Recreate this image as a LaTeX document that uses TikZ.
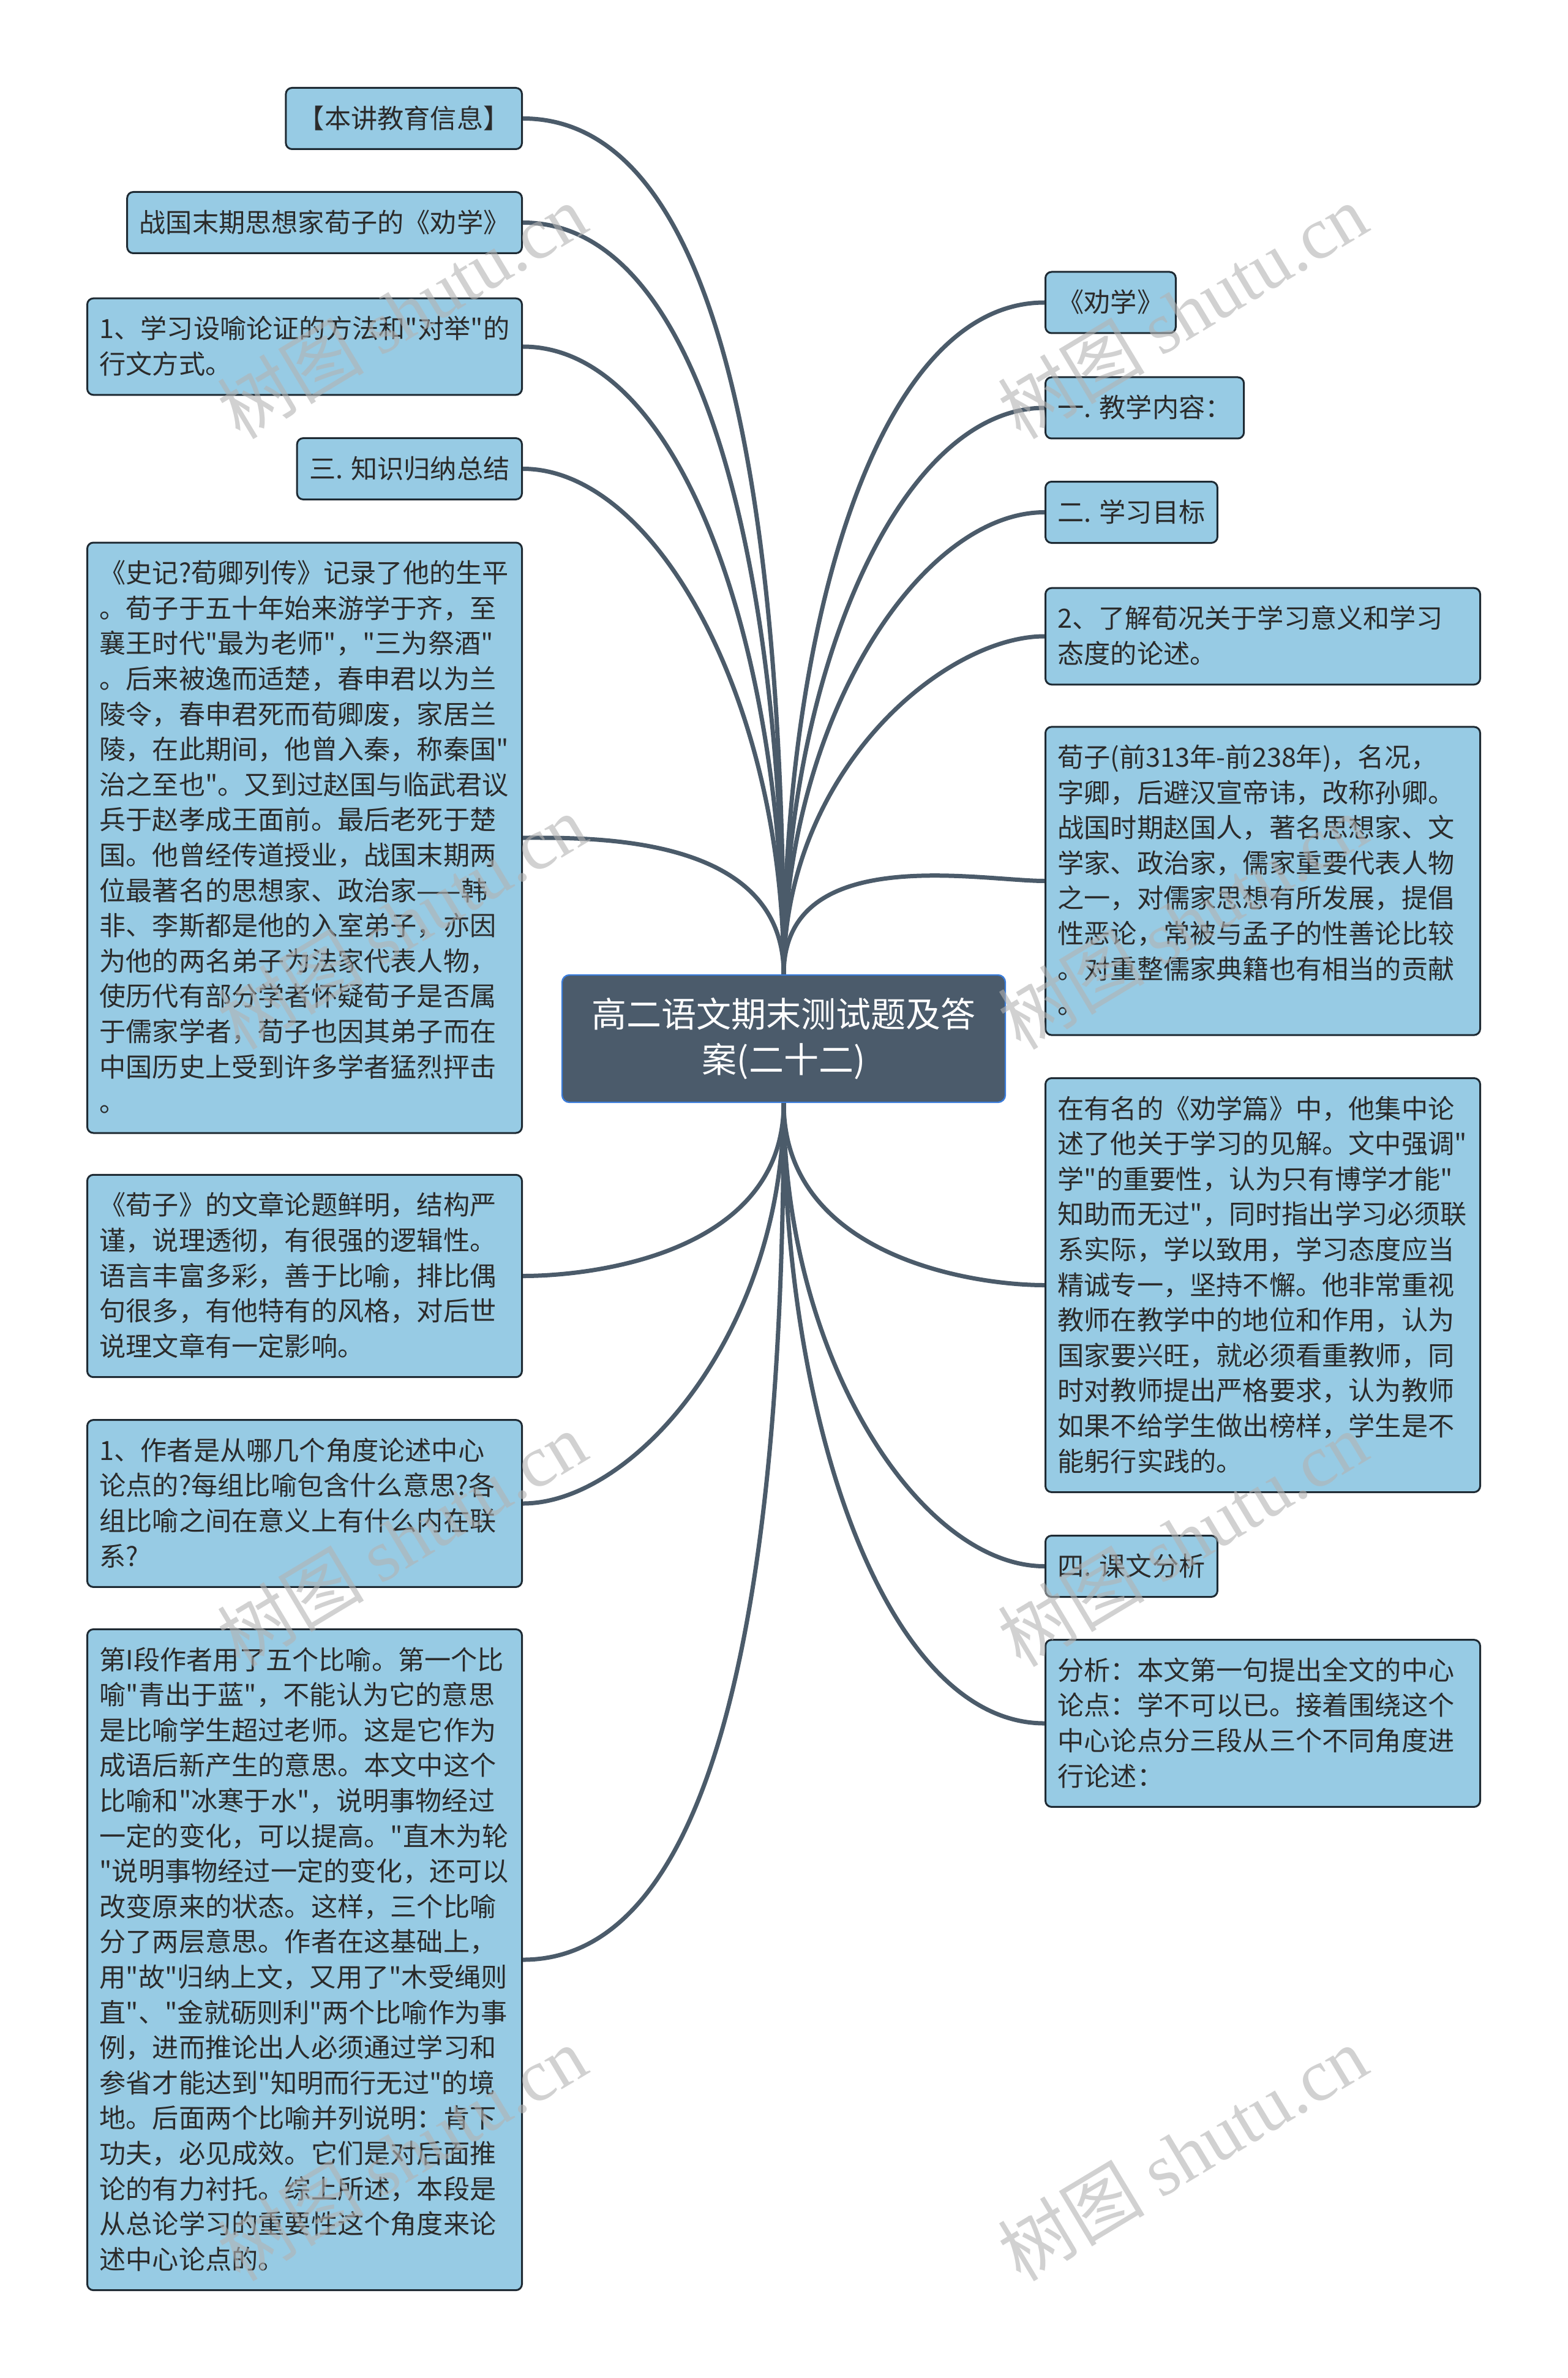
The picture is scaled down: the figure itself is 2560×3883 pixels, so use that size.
\documentclass[tikz,border=0pt]{standalone}
\usepackage{fontspec}
\setmainfont{Noto Sans CJK SC}[Ligatures=TeXOff]
\newfontfamily\wmserif{Liberation Serif}
\usepackage{tikz}
\usetikzlibrary{positioning}
\definecolor{TopicBlue}{HTML}{97CBE4}
\definecolor{TopicLine}{HTML}{1E2A33}
\definecolor{RootSlate}{HTML}{4B5B6B}
\definecolor{RootLine}{HTML}{3B7DDB}
\definecolor{EdgeSlate}{HTML}{4B5B6A}
\definecolor{InkDark}{HTML}{2B2B2B}
\definecolor{MarkGrey}{HTML}{B3B3B3}
\newcommand{\boxstrut}{\rule[-3.3pt]{0pt}{14.4pt}}

\begin{document}
\begin{tikzpicture}[x=0.25pt, y=0.25pt]
    \tikzstyle{topic} = [rectangle, draw=TopicLine, fill=TopicBlue, line width=0.75pt, rounded corners=2.5pt, inner xsep=5pt, inner ysep=5.3pt, align=left, text=InkDark, font=\fontsize{10.8}{14.4}\selectfont, execute at begin node=\boxstrut, execute at end node=\boxstrut]
    \tikzstyle{wide} = [topic, text width=167.5pt]
    \tikzstyle{root} = [rectangle, draw=RootLine, fill=RootSlate, line width=0.6pt, rounded corners=3pt, align=center, text=white, minimum width=181pt, minimum height=52pt, font=\fontsize{14.25}{18.5}\selectfont]
    \tikzstyle{link} = [draw=EdgeSlate, line width=1.75pt, out looseness=1.22, in looseness=0.6]
    \tikzstyle{watermark} = [text=MarkGrey, opacity=0.6, rotate=31, font=\fontsize{30}{30}\selectfont]

    \useasboundingbox (0,0) rectangle (2560,-3883);

    \node [root] (root) at (1280,-1696) {高二语文期末测试题及答\\案(二十二)};

    \node [topic, anchor=east] (info) at (854,-193.5) {【本讲教育信息】};
    \node [topic, anchor=east] (author) at (854,-363.5) {战国末期思想家荀子的《劝学》};
    \node [wide, anchor=east] (method) at (854,-566) {1、学习设喻论证的方法和"对举"的\\行文方式。};
    \node [topic, anchor=east] (summary) at (854,-765.5) {三. 知识归纳总结};
    \node [wide, anchor=east] (life) at (854,-1368) {《史记?荀卿列传》记录了他的生平\\。荀子于五十年始来游学于齐，至\\襄王时代"最为老师"，"三为祭酒"\\。后来被逸而适楚，春申君以为兰\\陵令，春申君死而荀卿废，家居兰\\陵，在此期间，他曾入秦，称秦国"\\治之至也"。又到过赵国与临武君议\\兵于赵孝成王面前。最后老死于楚\\国。他曾经传道授业，战国末期两\\位最著名的思想家、政治家——韩\\非、李斯都是他的入室弟子，亦因\\为他的两名弟子为法家代表人物，\\使历代有部分学者怀疑荀子是否属\\于儒家学者，荀子也因其弟子而在\\中国历史上受到许多学者猛烈抨击\\。};
    \node [wide, anchor=east] (style) at (854,-2083.5) {《荀子》的文章论题鲜明，结构严\\谨，说理透彻，有很强的逻辑性。\\语言丰富多彩，善于比喻，排比偶\\句很多，有他特有的风格，对后世\\说理文章有一定影响。};
    \node [wide, anchor=east] (question) at (854,-2455) {1、作者是从哪几个角度论述中心\\论点的?每组比喻包含什么意思?各\\组比喻之间在意义上有什么内在联\\系?};
    \node [wide, anchor=east] (para) at (854,-3200) {第I段作者用了五个比喻。第一个比\\喻"青出于蓝"，不能认为它的意思\\是比喻学生超过老师。这是它作为\\成语后新产生的意思。本文中这个\\比喻和"冰寒于水"，说明事物经过\\一定的变化，可以提高。"直木为轮\\"说明事物经过一定的变化，还可以\\改变原来的状态。这样，三个比喻\\分了两层意思。作者在这基础上，\\用"故"归纳上文，又用了"木受绳则\\直"、"金就砺则利"两个比喻作为事\\例，进而推论出人必须通过学习和\\参省才能达到"知明而行无过"的境\\地。后面两个比喻并列说明：肯下\\功夫，必见成效。它们是对后面推\\论的有力衬托。综上所述，本段是\\从总论学习的重要性这个角度来论\\述中心论点的。};

    \node [topic, anchor=west] (title) at (1706,-494) {《劝学》};
    \node [topic, anchor=west] (content) at (1706,-666) {一. 教学内容：};
    \node [topic, anchor=west] (goal) at (1706,-836.5) {二. 学习目标};
    \node [wide, anchor=west] (attitude) at (1706,-1039) {2、了解荀况关于学习意义和学习\\态度的论述。};
    \node [wide, anchor=west] (xunzi) at (1706,-1438.5) {荀子(前313年-前238年)，名况，\\字卿，后避汉宣帝讳，改称孙卿。\\战国时期赵国人，著名思想家、文\\学家、政治家，儒家重要代表人物\\之一，对儒家思想有所发展，提倡\\性恶论，常被与孟子的性善论比较\\。对重整儒家典籍也有相当的贡献\\。};
    \node [wide, anchor=west] (essay) at (1706,-2098.5) {在有名的《劝学篇》中，他集中论\\述了他关于学习的见解。文中强调"\\学"的重要性，认为只有博学才能"\\知助而无过"，同时指出学习必须联\\系实际，学以致用，学习态度应当\\精诚专一，坚持不懈。他非常重视\\教师在教学中的地位和作用，认为\\国家要兴旺，就必须看重教师，同\\时对教师提出严格要求，认为教师\\如果不给学生做出榜样，学生是不\\能躬行实践的。};
    \node [topic, anchor=west] (lesson) at (1706,-2557.5) {四. 课文分析};
    \node [wide, anchor=west] (analysis) at (1706,-2814) {分析：本文第一句提出全文的中心\\论点：学不可以已。接着围绕这个\\中心论点分三段从三个不同角度进\\行论述：};

    \path [link] (root.north) to[out=90, in=0] (info.east);
    \path [link] (root.north) to[out=90, in=0] (author.east);
    \path [link] (root.north) to[out=90, in=0] (method.east);
    \path [link] (root.north) to[out=90, in=0] (summary.east);
    \path [link] (root.north) to[out=90, in=0] (life.east);
    \path [link] (root.south) to[out=-90, in=0] (style.east);
    \path [link] (root.south) to[out=-90, in=0] (question.east);
    \path [link] (root.south) to[out=-90, in=0] (para.east);
    \path [link] (root.north) to[out=90, in=180] (title.west);
    \path [link] (root.north) to[out=90, in=180] (content.west);
    \path [link] (root.north) to[out=90, in=180] (goal.west);
    \path [link] (root.north) to[out=90, in=180] (attitude.west);
    \path [link] (root.north) to[out=90, in=180] (xunzi.west);
    \path [link] (root.south) to[out=-90, in=180] (essay.west);
    \path [link] (root.south) to[out=-90, in=180] (lesson.west);
    \path [link] (root.south) to[out=-90, in=180] (analysis.west);

    \node [watermark] (wm1) at (656,-508) {树图 {\wmserif shutu.cn}};
    \node [watermark] (wm2) at (1931,-508) {树图 {\wmserif shutu.cn}};
    \node [watermark] (wm3) at (656,-1505) {树图 {\wmserif shutu.cn}};
    \node [watermark] (wm4) at (1931,-1505) {树图 {\wmserif shutu.cn}};
    \node [watermark] (wm5) at (656,-2513) {树图 {\wmserif shutu.cn}};
    \node [watermark] (wm6) at (1931,-2513) {树图 {\wmserif shutu.cn}};
    \node [watermark] (wm7) at (656,-3516) {树图 {\wmserif shutu.cn}};
    \node [watermark] (wm8) at (1931,-3516) {树图 {\wmserif shutu.cn}};
\end{tikzpicture}
\end{document}
